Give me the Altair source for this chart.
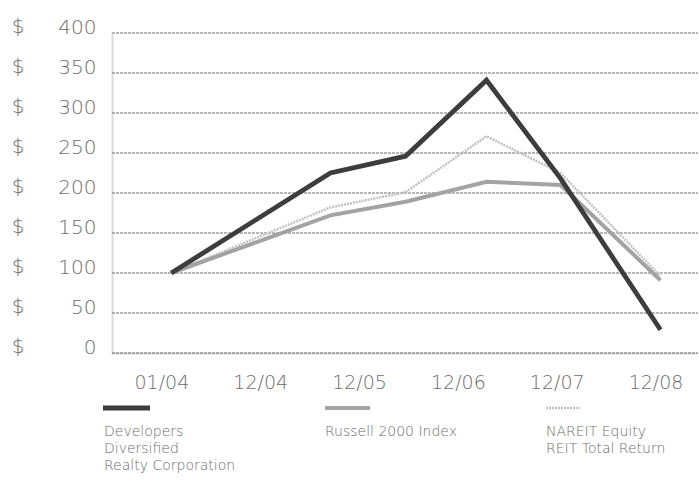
import altair as alt
import pandas as pd

# ---- data ----
x_labels = ["01/04", "12/04", "12/05", "12/06", "12/07", "12/08"]
# x location of each plotted point, in label units (0 = 01/04 ... 5 = 12/08)
x_points = [0.10, 1.71, 2.47, 3.29, 4.04, 5.05]
ddr = [100, 225, 246, 341, 218, 29]
russell = [100, 172, 189, 214, 210, 91]
nareit = [100, 182, 201, 271, 225, 96]
series_names = ["Developers Diversified Realty Corporation", "Russell 2000 Index",
                "NAREIT Equity REIT Total Return"]
legend_lines = [["Developers", "Diversified", "Realty Corporation"],
                ["Russell 2000 Index"],
                ["NAREIT Equity", "REIT Total Return"]]
y_ticks = [0, 50, 100, 150, 200, 250, 300, 350, 400]

rows = []
for name, vals in zip(series_names, [ddr, russell, nareit]):
    for i, (xp, v) in enumerate(zip(x_points, vals)):
        rows.append({"series": name, "x": xp, "value": v, "order": i})
df = pd.DataFrame(rows)

FONT = "DejaVu Sans"
WEIGHT = 200
GREY = "#6c6c6c"
LEFT, TOP = 112, 33
W, H = 586, 320

xscale = alt.Scale(domain=[-0.5, 5.43], nice=False, zero=False)
yscale = alt.Scale(domain=[0, 400], nice=False)
label_arr = "[" + ",".join("'%s'" % s for s in x_labels) + "]"

styles = {
    series_names[0]: dict(color="#3d3d3d", strokeWidth=4.8),
    series_names[1]: dict(color="#a3a3a3", strokeWidth=4),
    series_names[2]: dict(color="#c2c2c2", strokeWidth=2.5, strokeDash=[2, 1]),
}

ticks_df = pd.DataFrame({"v": y_ticks})

grid = alt.Chart(ticks_df).mark_rule(
    color="#6f6f6f", strokeWidth=1, strokeDash=[3, 1]
).encode(
    y=alt.Y("v:Q", scale=yscale,
            axis=alt.Axis(values=y_ticks, title=None, grid=False, ticks=False,
                          domain=True, domainColor="#b5b5b5", domainWidth=2,
                          domainDash=[1, 1],
                          labelFont=FONT, labelFontSize=20, labelColor=GREY,
                          labelFontWeight=WEIGHT, labelBaseline="alphabetic",
                          labelPadding=16)),
    x=alt.value(0), x2=alt.value(W),
)

dollars = alt.Chart(ticks_df).mark_text(
    text="$", font=FONT, fontSize=20, fill=GREY, color=GREY, fontWeight=WEIGHT,
    align="center", baseline="alphabetic"
).encode(y=alt.Y("v:Q", scale=yscale, axis=None), x=alt.value(18 - LEFT))

lines = []
for name in series_names[::-1]:
    lines.append(
        alt.Chart(df).transform_filter(alt.datum.series == name).mark_line(
            strokeJoin="miter", **styles[name]
        ).encode(
            x=alt.X("x:Q", scale=xscale,
                    axis=alt.Axis(values=list(range(len(x_labels))),
                                  labelExpr=label_arr + "[datum.value]",
                                  title=None, grid=False, ticks=False,
                                  domain=True, domainColor="#b5b5b5", domainWidth=2,
                                  domainDash=[1, 1],
                                  labelFont=FONT, labelFontSize=19, labelColor=GREY,
                                  labelFontWeight=WEIGHT, labelPadding=20)),
            y=alt.Y("value:Q", scale=yscale, axis=None),
            order="order:Q",
        )
    )

# ---- custom legend (swatch + wrapped label under each) ----
swatch_x = [103, 325, 546]
swatch_x2 = [150, 370, 580]
text_x = [104, 325, 546]
swatch_y = 408
text_y0 = 432
line_gap = 17

legend_layers = []
for i, name in enumerate(series_names):
    legend_layers.append(
        alt.Chart(pd.DataFrame({"k": [0]})).mark_rule(**styles[name]).encode(
            x=alt.value(swatch_x[i] - LEFT), x2=alt.value(swatch_x2[i] - LEFT),
            y=alt.value(swatch_y - TOP)
        )
    )
    tdf = pd.DataFrame({"t": legend_lines[i], "row": list(range(len(legend_lines[i])))})
    legend_layers.append(
        alt.Chart(tdf).mark_text(
            font=FONT, fontSize=14, fill=GREY, color=GREY, fontWeight=WEIGHT,
            align="left", baseline="middle"
        ).encode(
            text="t:N",
            x=alt.value(text_x[i] - LEFT),
            y=alt.Y("row:Q", axis=None,
                    scale=alt.Scale(domain=[0, 1],
                                    range=[text_y0 - TOP, text_y0 - TOP + line_gap])),
        )
    )

chart = alt.layer(
    grid, dollars, *lines, *legend_layers
).resolve_scale(y="independent").properties(
    width=W, height=H,
    padding={"left": LEFT, "top": TOP, "right": 699 - LEFT - W, "bottom": 492 - TOP - H},
    autosize=alt.AutoSizeParams(type="none"),
    background="white",
).configure_view(stroke=None)

chart.save("out.html", embed_options={"renderer": "svg", "actions": False})
